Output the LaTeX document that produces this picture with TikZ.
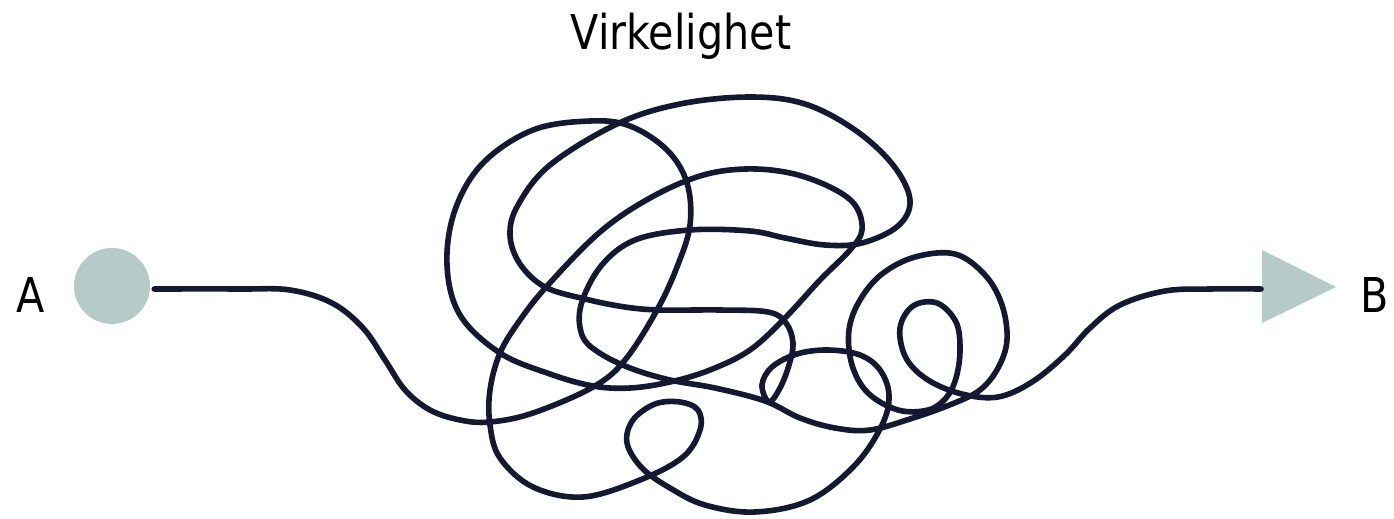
\documentclass[tikz,border=0pt]{standalone}
\usepackage{fontspec}
\newfontfamily\labfont[FakeStretch=0.86]{DejaVu Sans}
\definecolor{navy}{RGB}{20,24,48}
\definecolor{endgray}{RGB}{182,203,200}
\begin{document}
\begin{tikzpicture}[x=1pt,y=-1pt,
  lab/.style={font=\labfont\fontsize{48}{50}\selectfont, inner sep=0pt, text=black},
  tangle/.style={draw=navy, line width=5.6pt, line cap=round, line join=round}]
\useasboundingbox (0,0) rectangle (1394,519);
\node[circle, fill=endgray, minimum size=76pt, inner sep=0pt] (A) at (112,286) {};
\coordinate (Astart) at ([xshift=4pt,yshift=-3pt]A.east);
\fill[endgray] (1262,250) -- (1336,287) -- (1262,323) -- cycle;
\coordinate (Bbase) at (1261,289);
\node[lab] (la) at (31,295) {A};
\node[lab] (lb) at (1375,295) {B};
\node[lab, anchor=base] (title) at (681,50) {Virkelighet};
\draw[tangle] plot[smooth, tension=0.6] coordinates {
(Astart) (240,289) (290,290) (332,303) (363,328) (385,360) (405,390) (430,410) (460,420)
(490,422) (533,413) (593,387) (625,360) (657,310) (677,267) (690,225) (687,183) (667,150)
(630,126) (590,121) (533,130) (483,163) (455,210) (447,265) (460,315) (500,353) (550,374)
(593,386) (630,388) (670,382) (710,370) (750,350) (785,318) (820,280) (850,250) (862,230)
(855,205) (830,187) (790,173) (745,169) (700,176) (650,198) (600,232) (548,285) (520,320)
(500,353) (490,390) (490,425) (500,458) (533,487) (583,497) (640,480) (683,457) (700,430)
(698,410) (680,402) (655,404) (633,420) (627,443) (642,468) (670,488) (705,505) (755,512)
(810,500) (855,465) (882,425) (889,395) (880,370) (860,355) (828,350) (797,354) (772,367)
(762,385) (769,402) (780,388) (789,365) (793,343) (786,323) (768,312) (720,310) (660,310)
(625,307) (585,299) (545,287) (520,264) (510,235) (518,205) (550,165) (617,124) (680,104)
(750,97) (805,104) (855,130) (893,165) (910,200) (898,226) (862,243) (825,245) (785,238)
(750,231) (690,230) (635,240) (601,266) (581,305) (582,335) (598,352) (630,368) (670,380)
(715,388) (765,401) (800,418) (835,428) (870,430) (913,418) (952,404) (980,390) (998,368)
(1007,340) (1002,305) (985,275) (955,254) (915,257) (882,274) (860,300) (849,330) (852,365)
(868,393) (898,410) (928,410) (946,398) (956,378) (960,350) (956,322) (937,303) (913,306)
(900,328) (906,358) (928,380) (962,394) (998,397) (1032,382) (1065,355) (1090,328) (1120,305)
(1165,291) (1210,289) (Bbase)};
\end{tikzpicture}
\end{document}
